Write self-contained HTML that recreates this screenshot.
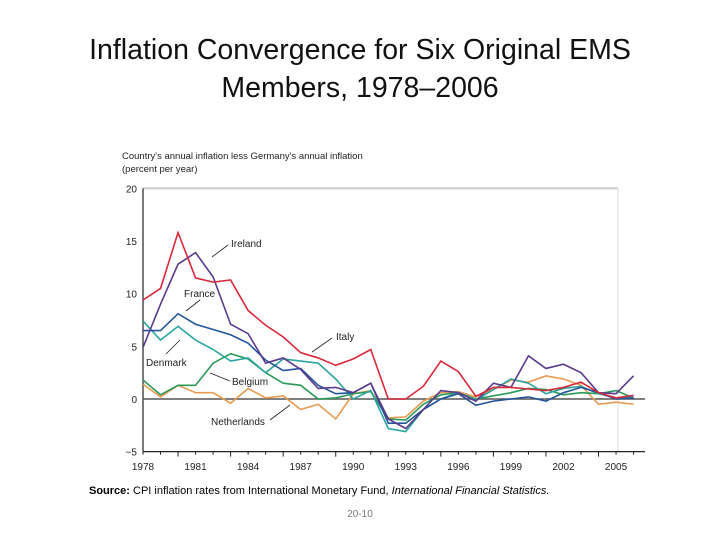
<!DOCTYPE html>
<html><head><meta charset="utf-8"><style>
body{margin:0;width:720px;height:540px;background:#fff;overflow:hidden;font-family:"Liberation Sans",sans-serif}
#title{position:absolute;top:31px;left:0;width:720px;text-align:center;font-size:28.5px;line-height:38px;color:#111}
#src{position:absolute;top:485px;left:89px;font-size:11px;color:#000;white-space:nowrap}
#pg{position:absolute;top:509px;left:0;width:720px;text-align:center;font-size:10px;color:#777}
svg{position:absolute;left:0;top:0}
</style></head><body>
<div id="title">Inflation Convergence for Six Original EMS<br>Members, 1978–2006</div>
<svg width="720" height="540" id="chart"></svg>
<div id="src"><b>Source:</b> CPI inflation rates from International Monetary Fund, <i>International Financial Statistics.</i></div>
<div id="pg">20-10</div>
<script>
const years=[];for(let y=1978;y<=2006;y++)years.push(y);
const italy=[9.4,10.5,15.8,11.5,11.1,11.3,8.4,7.0,5.9,4.4,3.9,3.2,3.8,4.7,0,0,1.2,3.6,2.6,0.25,1.1,1.1,0.95,0.8,1.1,1.6,0.6,0.1,0.35];
const ireland=[4.9,9.0,12.8,13.9,11.6,7.1,6.2,3.4,3.9,2.8,1.0,1.1,0.6,1.5,-1.9,-2.8,-1.0,0.8,0.6,-0.2,1.5,1.1,4.1,2.9,3.3,2.5,0.6,0.5,2.2];
const france=[6.5,6.5,8.1,7.1,6.6,6.1,5.3,3.7,2.7,2.9,1.3,0.5,0.6,1.5,-2.3,-2.3,-1.0,0.0,0.5,-0.6,-0.2,0.0,0.2,-0.2,0.6,1.1,0.6,0.0,0.1];
const denmark=[7.4,5.6,6.9,5.6,4.7,3.6,3.9,2.5,3.8,3.6,3.4,1.9,0,0.8,-2.8,-3.1,-1.0,0,0.6,-0.1,0.9,1.9,1.5,0.5,1.0,1.2,0.5,0.1,0.2];
const belgium=[1.8,0.4,1.3,1.3,3.4,4.3,3.8,2.5,1.5,1.3,0,0.1,0.5,0.7,-1.9,-2.0,-0.5,0.4,0.6,0.0,0.3,0.6,1.0,0.9,0.4,0.6,0.5,0.8,0.1];
const netherlands=[1.4,0.2,1.3,0.6,0.6,-0.4,1.0,0.1,0.3,-1.0,-0.5,-1.9,0.5,0.8,-1.8,-1.7,-0.2,0.6,0.7,0.2,0.9,1.8,1.6,2.2,1.9,1.3,-0.5,-0.3,-0.5];
const yTicks=[20,15,10,5,0,-5];
const xTicks=[1978,1981,1984,1987,1990,1993,1996,1999,2002,2005];
const svg=document.getElementById('chart');const NS='http://www.w3.org/2000/svg';
const X=y=>143+(y-1978)*17.52, Y=v=>399-v*10.53;
function mk(t,a,p){const e=document.createElementNS(NS,t);for(const k in a)e.setAttribute(k,a[k]);(p||svg).appendChild(e);return e;}
let e;
e=mk('text',{x:122,y:159,'font-size':'9.5',fill:'#222'});e.textContent="Country's annual inflation less Germany's annual inflation";


e=mk('text',{x:122,y:172,'font-size':'9.5',fill:'#222'});e.textContent="(percent per year)";


mk('line',{x1:143,y1:Y(20),x2:618,y2:Y(20),stroke:'#ccc','stroke-width':2});
mk('line',{x1:618,y1:Y(20),x2:618,y2:Y(-5),stroke:'#ddd','stroke-width':1});
mk('line',{x1:143,y1:Y(20),x2:143,y2:Y(-5),stroke:'#222','stroke-width':1.2});
mk('line',{x1:143,y1:Y(-5),x2:645,y2:Y(-5),stroke:'#222','stroke-width':1.2});
mk('line',{x1:143,y1:Y(0),x2:645,y2:Y(0),stroke:'#555','stroke-width':1.5});
yTicks.forEach(v=>{const t=mk('text',{x:137,y:Y(v)+4,'font-size':'10','text-anchor':'end',fill:'#222'});t.textContent=v<0?'−'+(-v):v;

});
years.forEach(y=>mk('line',{x1:X(y),y1:Y(-5),x2:X(y),y2:Y(-5)+(y%3==0?5:3),stroke:'#222'}));
xTicks.forEach(y=>{const t=mk('text',{x:X(y),y:470,'font-size':'10','text-anchor':'middle',fill:'#222'});t.textContent=y;

});
const series=[['netherlands',netherlands,'#e89a50'],['belgium',belgium,'#2a9a5a'],['denmark',denmark,'#2aa5a0'],['france',france,'#24549b'],['ireland',ireland,'#5b3a8c'],['italy',italy,'#d8283a']];
series.forEach(([n,d,c])=>{const p=mk('polyline',{points:d.map((v,i)=>X(years[i])+','+Y(v)).join(' '),fill:'none',stroke:c,'stroke-width':1.6});

});
const labels=[['Ireland',231,247,212,257,228,245],['France',184,297,186,311,200,300],['Denmark',146,366,166,354,180,340],['Belgium',232,385,210,373,230,381],['Netherlands',211,425,270,420,290,405],['Italy',336,340,312,352,332,338]];
labels.forEach(([t,x,y,x1,y1,x2,y2])=>{mk('line',{x1,y1,x2,y2,stroke:'#222','stroke-width':0.8});
const s=mk('text',{x,y,'font-size':'10',fill:'#222'});s.textContent=t;

});
</script>
</body></html>
